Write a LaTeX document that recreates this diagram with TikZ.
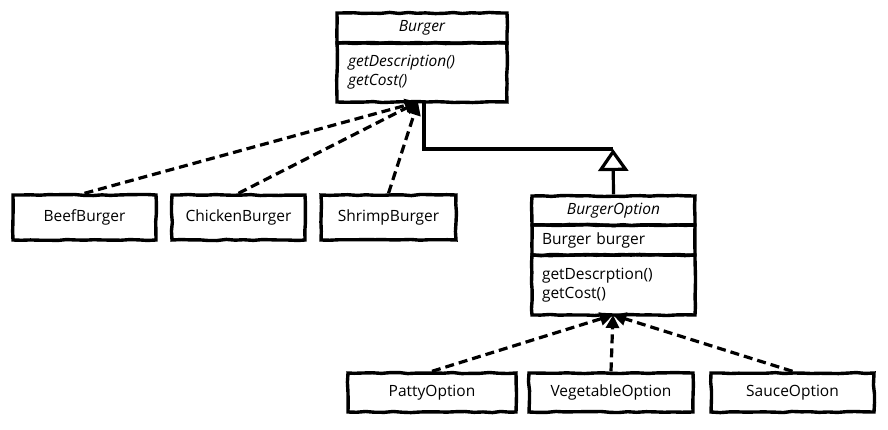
\documentclass[tikz,border=0pt]{standalone}
\usepackage{fontspec}
\setmainfont{Open Sans}
\usetikzlibrary{arrows.meta,decorations.pathmorphing}

\begin{document}
\begin{tikzpicture}[x=1pt,y=-1pt,font=\fontsize{15.5}{19}\selectfont]

    \useasboundingbox (0,0) rectangle (888,429);

    \begin{scope}[every node/.style={draw,line width=3.4pt,inner sep=0pt,decorate,
                  decoration={random steps,segment length=9pt,amplitude=0.6pt}}]
        \node[minimum width=170pt,minimum height=30pt] (burger) at (422,28) {\itshape Burger};
        \node[minimum width=170pt,minimum height=59pt,text width=148pt,align=left,
              font=\fontsize{15.5}{19}\selectfont\itshape] (burgerops) at (422,72.5) {getDescription()\\getCost()};
        \node[minimum width=163pt,minimum height=29pt] (optname) at (613.5,210.5) {\itshape BurgerOption};
        \node[minimum width=163pt,minimum height=30pt,text width=143pt,align=left] (optattr) at (613.5,240) {Burger burger};
        \node[minimum width=163pt,minimum height=60pt,text width=143pt,align=left] (optops) at (613.5,285) {getDescrption()\\getCost()};
        \node[minimum width=143pt,minimum height=45pt] (beef) at (84.5,217.5) {BeefBurger};
        \node[minimum width=133pt,minimum height=45pt] (chicken) at (238.5,217.5) {ChickenBurger};
        \node[minimum width=135pt,minimum height=45pt] (shrimp) at (388.5,217.5) {ShrimpBurger};
        \node[minimum width=168pt,minimum height=39pt] (patty) at (432,392.5) {PattyOption};
        \node[minimum width=164pt,minimum height=39pt] (veg) at (611,392.5) {VegetableOption};
        \node[minimum width=163pt,minimum height=39pt] (sauce) at (792.5,392.5) {SauceOption};
    \end{scope}

    \coordinate (burgertip) at (418,102);
    \coordinate (burgerjoin) at (424,102);
    \coordinate (opttip) at (613,315);
    \coordinate (bend) at (613,149);

    \begin{scope}[every edge/.style={draw,line width=3.2pt,dash pattern=on 9pt off 5pt}]
        \path [-{Triangle[length=13pt,width=13pt]}] (beef.north)    edge (burgertip);
        \path [-{Triangle[length=13pt,width=13pt]}] (chicken.north) edge (burgertip);
        \path [-{Triangle[length=13pt,width=13pt]}] (shrimp.north)  edge (burgertip);
        \path [-{Triangle[length=13pt,width=13pt]}] (patty.north)   edge (opttip);
        \path [-{Triangle[length=13pt,width=13pt]}] (veg.north)     edge (opttip);
        \path [-{Triangle[length=13pt,width=13pt]}] (sauce.north)   edge (opttip);
    \end{scope}

    \draw [line width=3.2pt,-{Triangle[open,length=22pt,width=30pt]}] (optname.north) -- (bend);
    \draw [line width=3.2pt] (bend) -| (burgerjoin);

\end{tikzpicture}
\end{document}
